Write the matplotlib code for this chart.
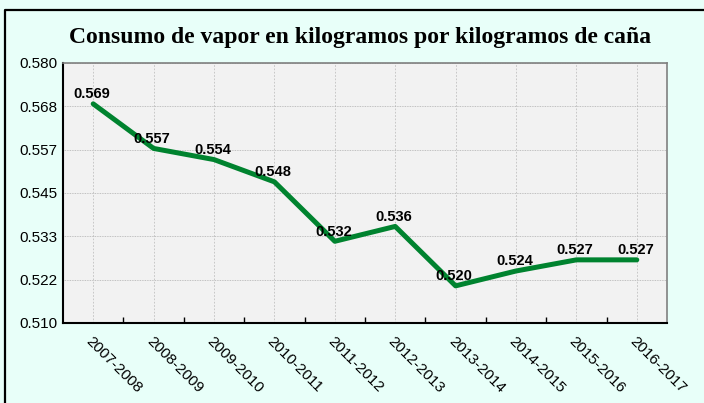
import matplotlib.pyplot as plt
from matplotlib.lines import Line2D
from matplotlib.ticker import FixedLocator

seasons = ["2007-2008", "2008-2009", "2009-2010", "2010-2011", "2011-2012",
           "2012-2013", "2013-2014", "2014-2015", "2015-2016", "2016-2017"]
consumo = [0.569, 0.557, 0.554, 0.548, 0.532, 0.536, 0.520, 0.524, 0.527, 0.527]
y_ticks = [0.510, 0.52167, 0.53333, 0.545, 0.55667, 0.56833, 0.580]

fig = plt.figure(figsize=(7.04, 4.03), dpi=100)
fig.patch.set_facecolor("#E8FFF9")

# frame around the chart (left and top edges)
fig.add_artist(Line2D([5/704, 5/704, 1.0], [0.0, 1 - 10/403, 1 - 10/403],
                      transform=fig.transFigure, color="black", lw=1.6))

ax = fig.add_axes([63/704, 1 - 323/403, 604/704, 260/403])
ax.set_facecolor("#F2F2F2")

x = list(range(len(seasons)))
ax.plot(x, consumo, color="#00832F", lw=3.6, solid_capstyle="round",
        solid_joinstyle="round", zorder=3)

for xi, v in zip(x, consumo):
    ax.annotate(f"{v:.3f}", (xi, v), xytext=(-1, 2), textcoords="offset points",
                ha="center", va="bottom", fontsize=10.5, fontweight="bold",
                family="Liberation Sans", zorder=4)

ax.set_xlim(-0.5, len(seasons) - 0.5)
ax.set_ylim(0.510, 0.580)
ax.yaxis.set_major_locator(FixedLocator(y_ticks))
ax.set_yticklabels([f"{t:.3f}" for t in y_ticks], family="Liberation Sans", fontsize=11)
ax.tick_params(axis="y", length=0, pad=4)

# category labels at centers, tick marks at boundaries
ax.set_xticks(x)
ax.set_xticklabels(seasons, rotation=-45, ha="left", va="top",
                   rotation_mode="anchor", family="Liberation Sans", fontsize=11)
ax.tick_params(axis="x", which="major", length=0, pad=8)
ax.set_xticks([i + 0.5 for i in range(len(seasons) - 1)], minor=True)
ax.tick_params(axis="x", which="minor", length=4, width=1, direction="in")

ax.grid(axis="y", color="#B0B0B0", lw=0.6, ls=(0, (1, 1)))
ax.grid(axis="x", which="major", color="#C0C0C0", lw=0.6, ls=(0, (2, 2)))
ax.set_axisbelow(True)

for side in ["left", "bottom"]:
    ax.spines[side].set_color("black")
    ax.spines[side].set_linewidth(1.5)
for side in ["top", "right"]:
    ax.spines[side].set_color("#808080")
    ax.spines[side].set_linewidth(1.2)

fig.text(360/704, 1 - 37/403, "Consumo de vapor en kilogramos por kilogramos de caña",
         ha="center", va="center", fontsize=17, fontweight="bold",
         family="Liberation Serif")

fig.savefig("out.png", dpi=100, facecolor=fig.get_facecolor())
